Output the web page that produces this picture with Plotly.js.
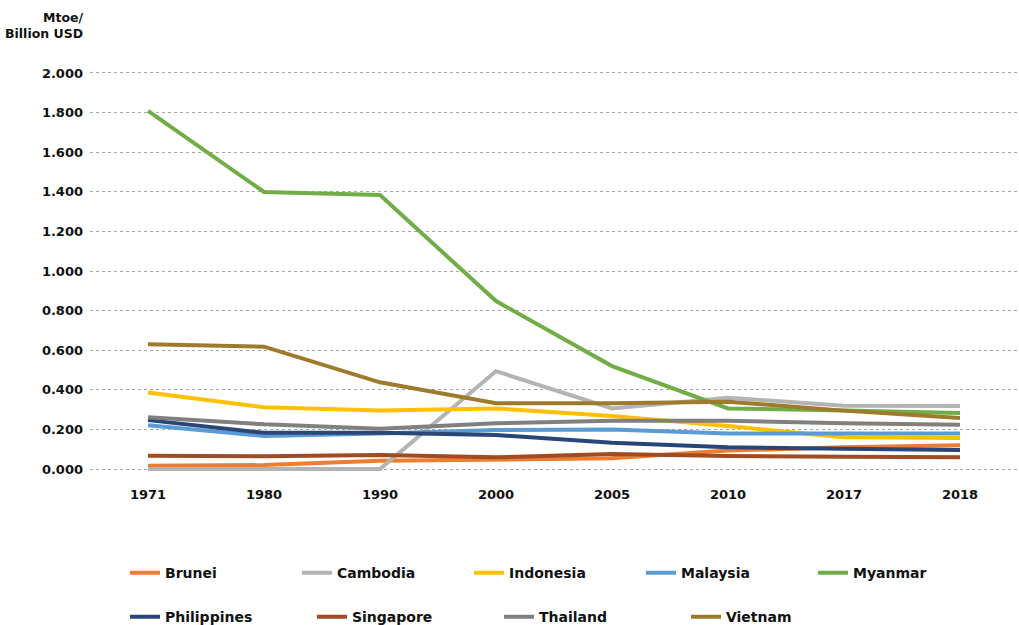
<!DOCTYPE html>
<html>
<head>
<meta charset="utf-8">
<script src="https://cdn.plot.ly/plotly-3.0.1.min.js"></script>
<style>html,body{margin:0;padding:0;background:#fff}#chart{width:1019px;height:625px}</style>
</head>
<body>
<div id="chart"></div>
<script>
const years = ['1971','1980','1990','2000','2005','2010','2017','2018'];
const brunei      = [0.017, 0.020, 0.042, 0.049, 0.054, 0.093, 0.110, 0.120];
const cambodia    = [0.000, 0.000, 0.000, 0.494, 0.306, 0.360, 0.320, 0.318];
const indonesia   = [0.387, 0.312, 0.295, 0.306, 0.268, 0.217, 0.160, 0.157];
const malaysia    = [0.221, 0.167, 0.180, 0.197, 0.200, 0.180, 0.180, 0.180];
const myanmar     = [1.808, 1.399, 1.384, 0.848, 0.520, 0.306, 0.295, 0.283];
const philippines = [0.247, 0.183, 0.183, 0.172, 0.133, 0.110, 0.103, 0.096];
const singapore   = [0.067, 0.064, 0.071, 0.059, 0.076, 0.066, 0.062, 0.059];
const thailand    = [0.261, 0.226, 0.204, 0.231, 0.244, 0.244, 0.231, 0.224];
const vietnam     = [0.630, 0.618, 0.438, 0.332, 0.332, 0.340, 0.295, 0.258];

const names  = ['Brunei','Cambodia','Indonesia','Malaysia','Myanmar','Philippines','Singapore','Thailand','Vietnam'];
const series = [brunei, cambodia, indonesia, malaysia, myanmar, philippines, singapore, thailand, vietnam];
const colors = ['#ED7D31','#B4B4B4','#FFC000','#5B9BD5','#70AD47','#284677','#A04B22','#808080','#9E7A2C'];

const FONT = 'DejaVu Sans, sans-serif';

const traces = names.map((n, i) => ({
  type: 'scatter', mode: 'lines', name: n,
  x: years, y: series[i],
  line: {color: colors[i], width: 4},
  legend: i < 5 ? 'legend' : 'legend2',
  hoverinfo: 'skip'
}));

const legendCommon = {
  orientation: 'h', xanchor: 'left', yanchor: 'middle',
  font: {family: FONT, size: 14, color: '#111', weight: 'bold'},
  bgcolor: 'rgba(0,0,0,0)', traceorder: 'normal', itemwidth: 30
};

const layout = {
  width: 1019, height: 625,
  margin: {l: 90, r: 1, t: 69, b: 152, autoexpand: false},
  paper_bgcolor: '#fff', plot_bgcolor: '#fff',
  font: {family: FONT, size: 13, color: '#111'},
  showlegend: true,
  xaxis: {
    type: 'category', range: [-0.5, 7.5],
    showgrid: false, zeroline: false, showline: false,
    ticks: '', ticklabelstandoff: 12,
    tickfont: {family: FONT, size: 13, color: '#111', weight: 'bold'}
  },
  yaxis: {
    range: [-0.02, 2.02], dtick: 0.2, tick0: 0,
    tickformat: '.3f',
    showgrid: true, gridcolor: '#A6A6A6', gridwidth: 1, griddash: '3px,3px',
    zeroline: false, showline: false, ticks: '', ticklabelstandoff: 6,
    tickfont: {family: FONT, size: 13, color: '#111', weight: 'bold'}
  },
  legend: Object.assign({}, legendCommon, {x: 0.0377, y: -0.248, entrywidth: 127}),
  legend2: Object.assign({}, legendCommon, {x: 0.0377, y: -0.357, entrywidth: 142}),
  annotations: [{
    xref: 'paper', yref: 'paper', x: -0.005, y: 1.0, xanchor: 'right', yanchor: 'bottom',
    yshift: 26, align: 'right', showarrow: false,
    text: 'Mtoe/<br>Billion USD',
    font: {family: FONT, size: 12.5, color: '#111', weight: 'bold'}
  }]
};

Plotly.newPlot('chart', traces, layout, {displayModeBar: false, staticPlot: true});
</script>
</body>
</html>
